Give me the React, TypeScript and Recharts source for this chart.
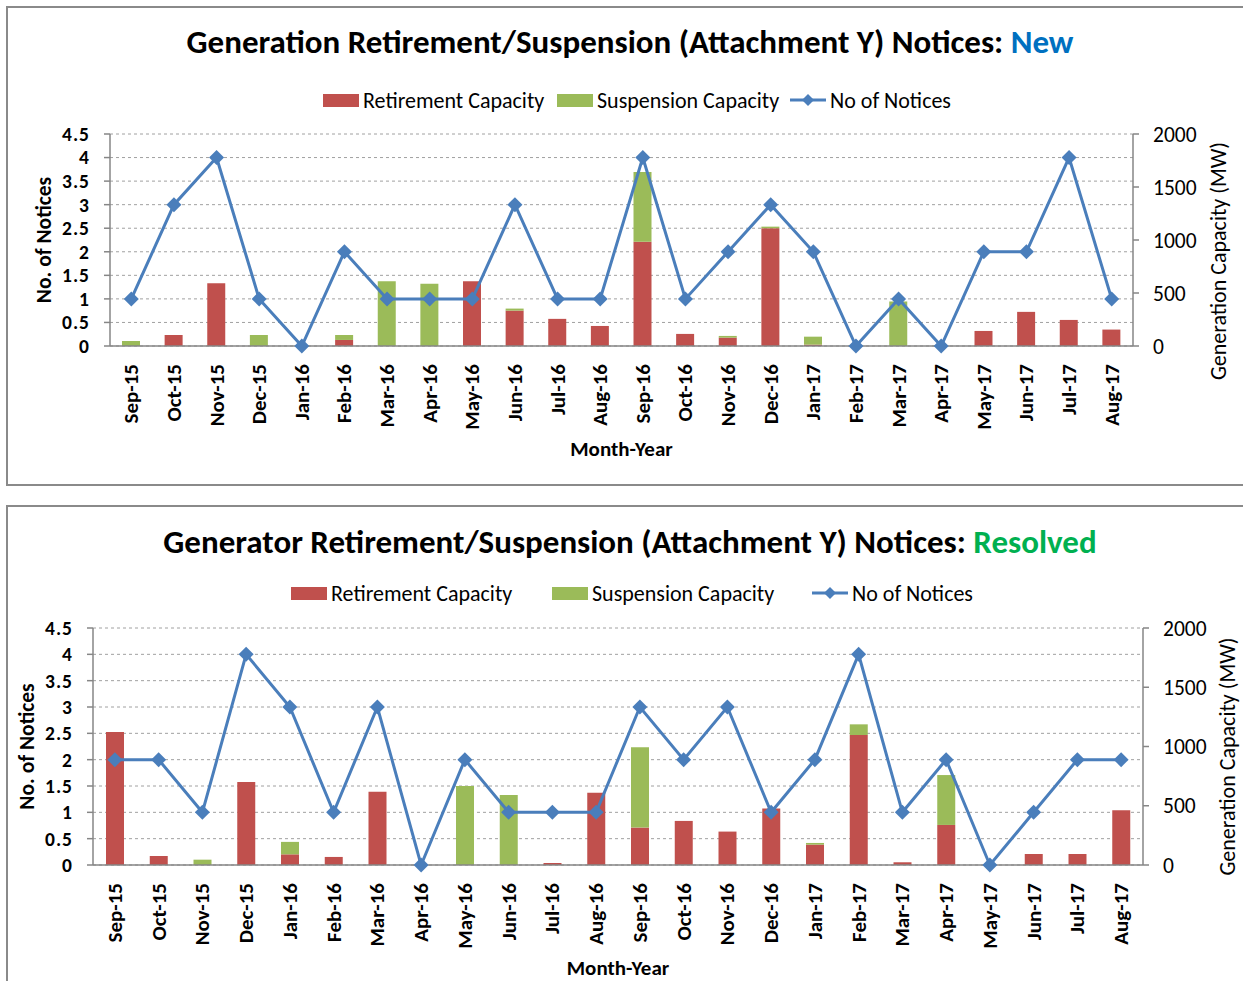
import React from "react";
import { ComposedChart, Bar, Line, XAxis, YAxis, CartesianGrid } from "recharts";

// ---------------------------------------------------------------------------
// Data (MW for capacities, count for notices)
// ---------------------------------------------------------------------------

const months = [
  "Sep-15", "Oct-15", "Nov-15", "Dec-15", "Jan-16", "Feb-16", "Mar-16", "Apr-16",
  "May-16", "Jun-16", "Jul-16", "Aug-16", "Sep-16", "Oct-16", "Nov-16", "Dec-16",
  "Jan-17", "Feb-17", "Mar-17", "Apr-17", "May-17", "Jun-17", "Jul-17", "Aug-17",
];

const newRetirement = [0, 104, 593, 0, 0, 57, 0, 0, 612, 334, 256, 189, 984, 114, 79, 1111, 13, 0, 0, 0, 142, 322, 246, 155];
const newSuspension = [47, 0, 0, 104, 0, 47, 612, 587, 0, 19, 0, 0, 657, 0, 16, 15, 75, 0, 420, 0, 0, 0, 0, 0];
const newNotices = [1, 3, 4, 1, 0, 2, 1, 1, 1, 3, 1, 1, 4, 1, 2, 3, 2, 0, 1, 0, 2, 2, 4, 1];

const resolvedRetirement = [1123, 76, 0, 700, 90, 68, 618, 0, 0, 0, 17, 609, 316, 372, 282, 477, 172, 1097, 23, 338, 0, 93, 93, 463];
const resolvedSuspension = [0, 0, 45, 0, 105, 0, 0, 0, 666, 590, 0, 0, 677, 0, 0, 0, 14, 90, 0, 421, 0, 0, 0, 0];
const resolvedNotices = [2, 2, 1, 4, 3, 1, 3, 0, 2, 1, 1, 1, 3, 2, 3, 1, 2, 4, 1, 2, 0, 1, 2, 2];

const noticeTicks = [0, 0.5, 1, 1.5, 2, 2.5, 3, 3.5, 4, 4.5];
const capacityTicks = [0, 500, 1000, 1500, 2000];
const edgeTicks = months.map((_, i) => i).concat(months.length);

// ---------------------------------------------------------------------------
// Styling
// ---------------------------------------------------------------------------

const FONT = "Carlito, Calibri, Lato, 'Noto Sans', sans-serif";
const RED = "#C0504D";
const GREEN = "#9BBB59";
const BLUE = "#4A7EBB";
const AXIS = "#868686";
const GRID = "#a0a0a0";
const W = 1243;

function Diamond(props: any) {
  const { cx, cy } = props;
  if (cx == null || cy == null) return null;
  const r = 7.5;
  return (
    <polygon
      points={`${cx},${cy - r} ${cx + r},${cy} ${cx},${cy + r} ${cx - r},${cy}`}
      fill={BLUE}
    />
  );
}

function MonthTick(props: any) {
  const { x, y, payload } = props;
  const ty = y + 16;
  return (
    <text
      x={x}
      y={ty}
      transform={`rotate(-90, ${x}, ${ty})`}
      textAnchor="end"
      dominantBaseline="central"
      fontSize={21}
      fontWeight={700}
      fontFamily={FONT}
      fill="#000"
    >
      {payload.value}
    </text>
  );
}

function sideTitle(text: string, x: number, shift: number, bold: boolean) {
  return (props: any) => {
    const vb = props.viewBox;
    const y = vb.y + vb.height / 2 + shift;
    return (
      <text
        x={x}
        y={y}
        transform={`rotate(-90, ${x}, ${y})`}
        textAnchor="middle"
        dominantBaseline="central"
        fontSize={bold ? 21.5 : 22}
        fontWeight={bold ? 700 : 400}
        fontFamily={FONT}
        fill="#000"
      >
        {text}
      </text>
    );
  };
}

// ---------------------------------------------------------------------------
// One panel
// ---------------------------------------------------------------------------

interface PanelProps {
  boxTop: number;
  boxHeight: number;
  chartTop: number;
  chartHeight: number;
  plotLeft: number;
  plotRight: number;
  plotTop: number;
  plotBottom: number;
  title: string;
  tag: string;
  tagColor: string;
  titleY: number;
  legendY: number;
  legendX: number[];
  leftTitleX: number;
  rightTitleX: number;
  rightTitleShift: number;
  xTitleGap: number;
  retirement: number[];
  suspension: number[];
  notices: number[];
}

function Panel(p: PanelProps) {
  const data = months.map((m, i) => ({
    month: m,
    retirement: p.retirement[i],
    suspension: p.suspension[i],
    notices: p.notices[i],
  }));
  const legend = [
    { kind: "bar", color: RED, label: "Retirement Capacity" },
    { kind: "bar", color: GREEN, label: "Suspension Capacity" },
    { kind: "line", color: BLUE, label: "No of Notices" },
  ];

  return (
    <>
      <div
        style={{
          position: "absolute",
          left: 6,
          top: p.boxTop,
          width: W + 10,
          height: p.boxHeight,
          border: "2px solid #8a8a8a",
          boxSizing: "border-box",
        }}
      />
      <div
        style={{
          position: "absolute",
          left: 0,
          width: W,
          top: p.titleY - 22,
          textAlign: "center",
          fontFamily: FONT,
          fontWeight: 700,
          fontSize: 33,
          lineHeight: "44px",
          paddingLeft: 17,
          boxSizing: "border-box",
          color: "#000",
          whiteSpace: "nowrap",
        }}
      >
        {p.title} <span style={{ color: p.tagColor }}>{p.tag}</span>
      </div>
      {legend.map((item, i) => (
        <div
          key={item.label}
          style={{
            position: "absolute",
            left: p.legendX[i],
            top: p.legendY - 14,
            height: 28,
            display: "flex",
            alignItems: "center",
            fontFamily: FONT,
            fontSize: 22,
            color: "#000",
            whiteSpace: "nowrap",
          }}
        >
          {item.kind === "bar" ? (
            <span style={{ width: 36, height: 13, background: item.color, marginRight: 4 }} />
          ) : (
            <svg width={36} height={14} style={{ marginRight: 4 }}>
              <line x1={0} y1={7} x2={36} y2={7} stroke={item.color} strokeWidth={3} />
              <polygon points="18,1 24,7 18,13 12,7" fill={item.color} />
            </svg>
          )}
          {item.label}
        </div>
      ))}
      <div style={{ position: "absolute", left: 0, top: p.chartTop }}>
        <ComposedChart
          width={W}
          height={p.chartHeight}
          data={data}
          margin={{
            top: p.plotTop - p.chartTop,
            right: 0,
            left: 0,
            bottom: p.chartTop + p.chartHeight - p.plotBottom - 2,
          }}
        >
          <CartesianGrid yAxisId="left" xAxisId="cat" vertical={false} stroke={GRID} strokeDasharray="3 3" />
          <XAxis
            xAxisId="edges"
            type="number"
            domain={[0, months.length]}
            ticks={edgeTicks}
            allowDataOverflow
            height={1}
            tick={false}
            tickSize={6}
            tickLine={{ stroke: AXIS, strokeWidth: 1.5 }}
            axisLine={false}
          />
          <XAxis
            xAxisId="cat"
            dataKey="month"
            height={1}
            tickSize={0}
            tickLine={false}
            axisLine={{ stroke: AXIS, strokeWidth: 1.5 }}
            interval={0}
            tick={<MonthTick />}
            label={{
              value: "Month-Year",
              position: "bottom",
              offset: p.xTitleGap,
              fontSize: 21,
              fontWeight: 700,
              fontFamily: FONT,
              fill: "#000",
            }}
          />
          <YAxis
            yAxisId="left"
            width={p.plotLeft}
            domain={[0, 4.5]}
            ticks={noticeTicks}
            interval={0}
            tickSize={6}
            tickMargin={14}
            axisLine={{ stroke: AXIS, strokeWidth: 1.5 }}
            tickLine={{ stroke: AXIS, strokeWidth: 1.5 }}
            tick={{ fontSize: 19.5, fontWeight: 700, fontFamily: FONT, fill: "#000", letterSpacing: 1 }}
            label={{ content: sideTitle("No. of Notices", p.leftTitleX, 0, true) }}
          />
          <YAxis
            yAxisId="right"
            orientation="right"
            width={W - p.plotRight}
            domain={[0, 2000]}
            ticks={capacityTicks}
            interval={0}
            tickSize={6}
            tickMargin={14}
            axisLine={{ stroke: AXIS, strokeWidth: 1.5 }}
            tickLine={{ stroke: AXIS, strokeWidth: 1.5 }}
            tick={{ fontSize: 21.5, fontFamily: FONT, fill: "#000" }}
            label={{
              content: sideTitle("Generation Capacity (MW)", p.rightTitleX, p.rightTitleShift, false),
            }}
          />
          <Bar
            xAxisId="cat"
            yAxisId="right"
            dataKey="retirement"
            stackId="cap"
            fill={RED}
            barSize={18}
            isAnimationActive={false}
          />
          <Bar
            xAxisId="cat"
            yAxisId="right"
            dataKey="suspension"
            stackId="cap"
            fill={GREEN}
            barSize={18}
            isAnimationActive={false}
          />
          <Line
            xAxisId="cat"
            yAxisId="left"
            dataKey="notices"
            stroke={BLUE}
            strokeWidth={3}
            dot={<Diamond />}
            activeDot={false}
            isAnimationActive={false}
          />
        </ComposedChart>
      </div>
    </>
  );
}

export default function App() {
  return (
    <div
      style={{
        position: "absolute",
        left: 0,
        top: 0,
        width: W,
        height: 981,
        overflow: "hidden",
        background: "#fff",
      }}
    >
      <Panel
        boxTop={6}
        boxHeight={480}
        chartTop={0}
        chartHeight={486}
        plotLeft={110}
        plotRight={1133}
        plotTop={134}
        plotBottom={346}
        title="Generation Retirement/Suspension (Attachment Y) Notices:"
        tag="New"
        tagColor="#0070C0"
        titleY={42}
        legendY={100}
        legendX={[323, 557, 790]}
        leftTitleX={44}
        rightTitleX={1218}
        rightTitleShift={21}
        xTitleGap={94}
        retirement={newRetirement}
        suspension={newSuspension}
        notices={newNotices}
      />
      <Panel
        boxTop={505}
        boxHeight={490}
        chartTop={486}
        chartHeight={495}
        plotLeft={93}
        plotRight={1143}
        plotTop={628}
        plotBottom={865}
        title="Generator Retirement/Suspension (Attachment Y) Notices:"
        tag="Resolved"
        tagColor="#00B050"
        titleY={542}
        legendY={593}
        legendX={[291, 552, 812]}
        leftTitleX={27}
        rightTitleX={1227}
        rightTitleShift={10}
        xTitleGap={94}
        retirement={resolvedRetirement}
        suspension={resolvedSuspension}
        notices={resolvedNotices}
      />
    </div>
  );
}
